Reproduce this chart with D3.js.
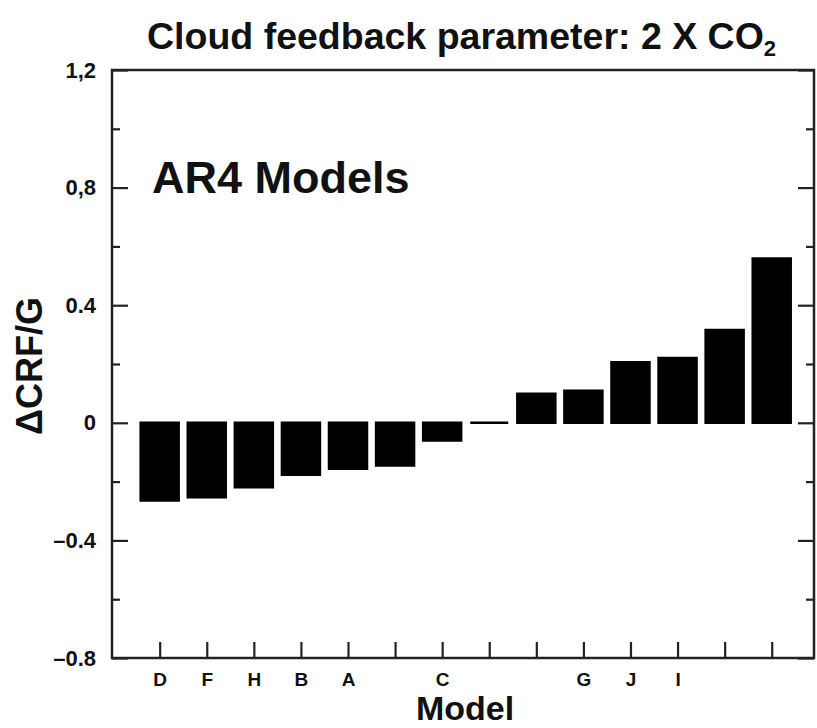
<!DOCTYPE html>
<html>
<head>
<meta charset="utf-8">
<script src="https://cdn.jsdelivr.net/npm/d3@7"></script>
<style>
  html, body { margin: 0; padding: 0; background: #fff; }
  svg { display: block; font-family: "Liberation Sans", Arial, Helvetica, sans-serif; font-weight: bold; }
</style>
</head>
<body>
<svg id="chart" width="817" height="728"></svg>
<script>
// ---- data ----
const positions = [1, 2, 3, 4, 5, 6, 7, 8, 9, 10, 11, 12, 13, 14];
const modelLabels = ["D", "F", "H", "B", "A", "", "C", "", "", "G", "J", "I", "", ""];
const crfValues = [-0.264, -0.253, -0.219, -0.177, -0.156, -0.145, -0.060, 0.0, 0.099, 0.109, 0.206, 0.220, 0.316, 0.559];
const yMajorTicks = [-0.8, -0.4, 0, 0.4, 0.8, 1.2];
const yMajorLabels = ["\u20130.8", "\u20130.4", "0", "0.4", "0,8", "1,2"];
const yMinorTicks = [-0.6, -0.2, 0.2, 0.6, 1.0];

// ---- layout ----
const L = 112, R = 814, T = 70, B = 658;
const svg = d3.select("#chart");

const x = d3.scaleLinear().domain([0, 15]).range([112.6, 818.8]);
const y = d3.scaleLinear().domain([-0.8, 1.2]).range([B, T]);

// bars
const barW = 38;
const y0 = y(0);
svg.append("g").selectAll("path").data(positions).join("path")
  .attr("d", (p, i) => {
    const v = crfValues[i];
    const yt = Math.min(y(v), y0), h = Math.abs(y(v) - y0);
    return `M${x(p) - barW / 2},${yt}h${barW}v${h}h${-barW}Z`;
  })
  .attr("fill", "#000").attr("stroke", "#000").attr("stroke-width", 2.5)
  .attr("stroke-linejoin", "miter");

// axes
function styleAxis(g) {
  g.select(".domain").remove();
  g.selectAll(".tick line").attr("stroke", "#222").attr("stroke-width", 2.2);
  g.selectAll(".tick text").attr("fill", "#111").attr("font-family", "Liberation Sans, Arial, sans-serif").attr("font-weight", "bold");
}

svg.append("g").attr("transform", `translate(${L},0)`)
  .call(d3.axisLeft(y).tickValues(yMajorTicks).tickSize(-16).tickPadding(16)
    .tickFormat((d, i) => yMajorLabels[i]))
  .call(styleAxis)
  .selectAll(".tick text").attr("font-size", 22);

svg.append("g").attr("transform", `translate(${L},0)`)
  .call(d3.axisLeft(y).tickValues(yMinorTicks).tickSize(-8).tickFormat(""))
  .call(styleAxis);

svg.append("g").attr("transform", `translate(${R},0)`)
  .call(d3.axisRight(y).tickValues(yMajorTicks).tickSize(-16).tickFormat(""))
  .call(styleAxis);

svg.append("g").attr("transform", `translate(${R},0)`)
  .call(d3.axisRight(y).tickValues(yMinorTicks).tickSize(-8).tickFormat(""))
  .call(styleAxis);

svg.append("g").attr("transform", `translate(0,${B})`)
  .call(d3.axisBottom(x).tickValues(positions).tickSize(-16).tickPadding(15)
    .tickFormat((d, i) => modelLabels[i]))
  .call(styleAxis)
  .selectAll(".tick text").attr("font-size", 19);

// frame
svg.append("rect").attr("x", L).attr("y", T).attr("width", R - L).attr("height", B - T)
  .attr("fill", "none").attr("stroke", "#222").attr("stroke-width", 2.5);

// title
const title = svg.append("text").attr("x", 147).attr("y", 49)
  .attr("font-size", 37.5).attr("fill", "#111");
title.append("tspan").text("Cloud feedback parameter: 2 X CO");
title.append("tspan").attr("font-size", 22).attr("dy", 7).text("2");

// in-plot label
svg.append("text").attr("x", 152).attr("y", 193).attr("font-size", 45).attr("fill", "#111")
  .text("AR4 Models");

// y-axis title
svg.append("text").attr("transform", "translate(42,366) rotate(-90)")
  .attr("text-anchor", "middle").attr("font-size", 36).attr("fill", "#111")
  .text("\u0394CRF/G");

// x-axis title
svg.append("text").attr("x", 465).attr("y", 720).attr("text-anchor", "middle")
  .attr("font-size", 34).attr("fill", "#111").text("Model");
</script>
</body>
</html>
